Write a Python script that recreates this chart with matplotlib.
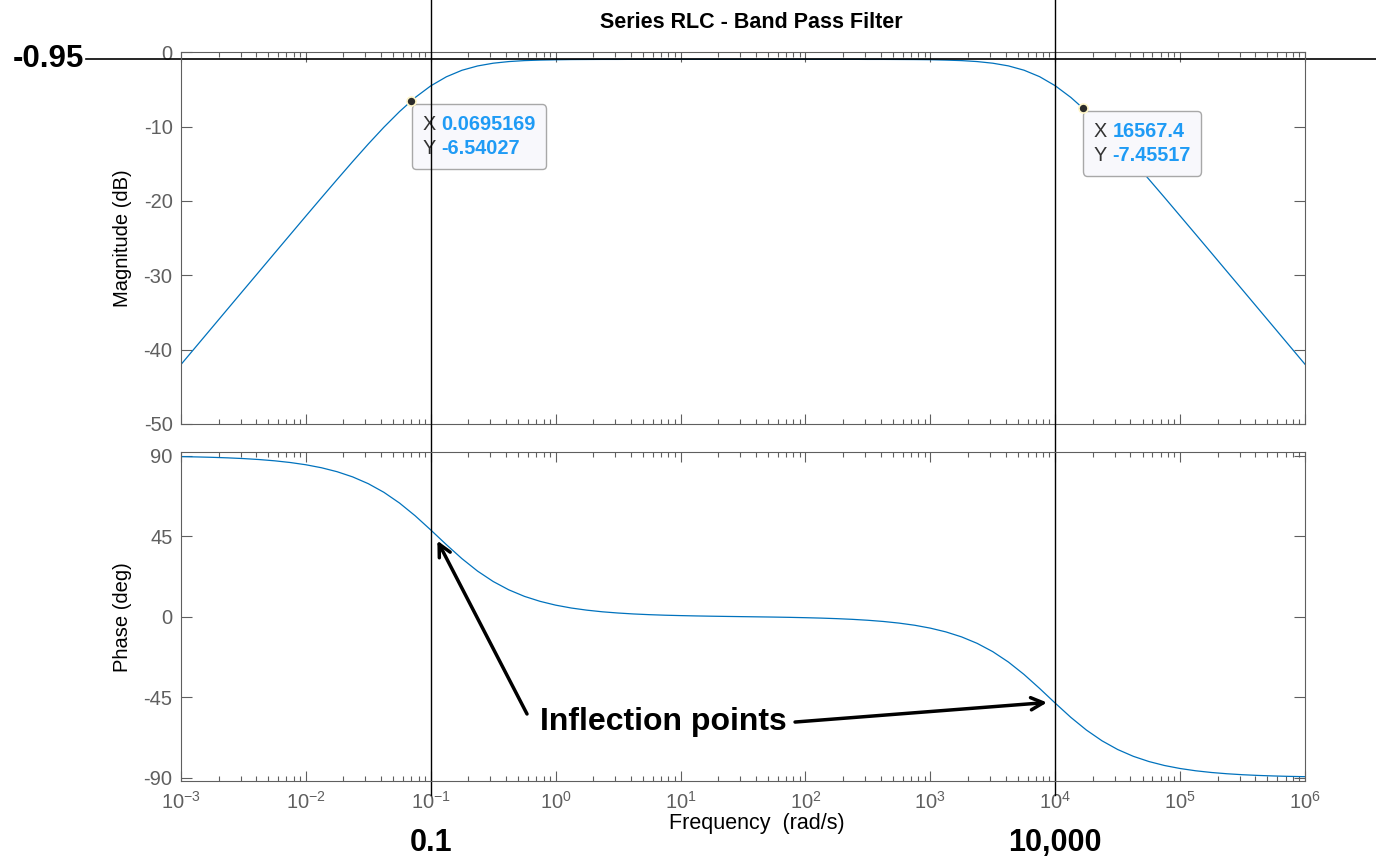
import matplotlib
matplotlib.use("Agg")
import matplotlib.pyplot as plt
import matplotlib.transforms as mtransforms
from matplotlib.offsetbox import TextArea, HPacker, VPacker, AnnotationBbox

plt.rcParams['font.family'] = ['Liberation Sans', 'DejaVu Sans']
plt.rcParams['mathtext.fontset'] = 'custom'
plt.rcParams['mathtext.rm'] = 'Liberation Sans'
plt.rcParams['mathtext.it'] = 'Liberation Sans:italic'
plt.rcParams['mathtext.bf'] = 'Liberation Sans:bold'
plt.rcParams['axes.unicode_minus'] = False

# frequencies read at eighth decades, 1e-3 .. 1e6 rad/s
log_freq = [-3.0, -2.875, -2.75, -2.625, -2.5, -2.375, -2.25, -2.125,
            -2.0, -1.875, -1.75, -1.625, -1.5, -1.375, -1.25, -1.125,
            -1.0, -0.875, -0.75, -0.625, -0.5, -0.375, -0.25, -0.125,
            0.0, 0.125, 0.25, 0.375, 0.5, 0.625, 0.75, 0.875,
            1.0, 1.125, 1.25, 1.375, 1.5, 1.625, 1.75, 1.875,
            2.0, 2.125, 2.25, 2.375, 2.5, 2.625, 2.75, 2.875,
            3.0, 3.125, 3.25, 3.375, 3.5, 3.625, 3.75, 3.875,
            4.0, 4.125, 4.25, 4.375, 4.5, 4.625, 4.75, 4.875,
            5.0, 5.125, 5.25, 5.375, 5.5, 5.625, 5.75, 5.875, 6.0]
freq = [10 ** e for e in log_freq]

magnitude_db = [-42.01, -39.51, -37.01, -34.51, -32.01, -29.52, -27.02, -24.53,
                -22.04, -19.57, -17.12, -14.70, -12.34, -10.08, -7.98, -6.09,
                -4.52, -3.30, -2.42, -1.84, -1.47, -1.25, -1.12, -1.05,
                -1.01, -0.98, -0.97, -0.96, -0.96, -0.95, -0.95, -0.95,
                -0.95, -0.95, -0.95, -0.95, -0.95, -0.95, -0.95, -0.95,
                -0.95, -0.95, -0.95, -0.95, -0.96, -0.96, -0.97, -0.98,
                -1.00, -1.05, -1.12, -1.25, -1.47, -1.83, -2.41, -3.28,
                -4.50, -6.07, -7.94, -10.04, -12.30, -14.66, -17.08, -19.53,
                -22.01, -24.49, -26.98, -29.48, -31.97, -34.47, -36.97, -39.47, -41.97]

phase_deg = [89.49, 89.32, 89.10, 88.80, 88.40, 87.86, 87.15, 86.20,
             84.94, 83.27, 81.06, 78.15, 74.36, 69.53, 63.53, 56.43,
             48.49, 40.28, 32.43, 25.47, 19.66, 15.00, 11.35, 8.57,
             6.44, 4.83, 3.63, 2.71, 2.03, 1.50, 1.11, 0.81,
             0.59, 0.40, 0.25, 0.12, 0.00, -0.12, -0.24, -0.39,
             -0.58, -0.81, -1.11, -1.50, -2.02, -2.70, -3.61, -4.81,
             -6.42, -8.53, -11.31, -14.93, -19.57, -25.37, -32.30, -40.14,
             -48.35, -56.31, -63.43, -69.44, -74.29, -78.09, -81.01, -83.24,
             -84.92, -86.19, -87.14, -87.85, -88.39, -88.79, -89.09, -89.32, -89.49]

# data tips
tip_x = [0.0695169, 16567.4]
tip_y = [-6.54027, -7.45517]
tip_x_text = ["0.0695169", "16567.4"]
tip_y_text = ["-6.54027", "-7.45517"]

passband_level = -0.95
corner_freqs = [0.1, 1e4]
corner_labels = ["0.1", "10,000"]
mag_ticks = [0, -10, -20, -30, -40, -50]
phase_ticks = [90, 45, 0, -45, -90]

line_color = '#0072BD'
axis_grey = '#5f5f5f'
tip_blue = '#1f9bf5'

fig = plt.figure(figsize=(13.76, 8.67), dpi=100)
ax1 = fig.add_axes([0.1315, 0.5110, 0.8169, 0.4287])
ax2 = fig.add_axes([0.1315, 0.0992, 0.8169, 0.3791])

ax1.semilogx(freq, magnitude_db, color=line_color, lw=0.9)
ax2.semilogx(freq, phase_deg, color=line_color, lw=0.9)

for ax in (ax1, ax2):
    ax.set_xlim(1e-3, 1e6)
    ax.tick_params(which='both', direction='in', top=True, right=True,
                   colors=axis_grey, labelsize=14.5, width=0.8)
    ax.tick_params(axis='x', which='major', length=7.2, pad=7)
    ax.tick_params(axis='x', which='minor', length=3.6)
    ax.tick_params(axis='y', which='major', length=7.9, pad=6)
    ax.tick_params(axis='y', which='minor', length=0)
    for sp in ax.spines.values():
        sp.set_color(axis_grey)
        sp.set_linewidth(0.8)
    ax.set_xticks([10.0 ** k for k in range(-3, 7)])

ax1.set_ylim(-50, 0)
ax1.set_yticks(mag_ticks)
ax1.tick_params(axis='x', labelbottom=False)
ax2.set_ylim(-91.9, 91.9)
ax2.set_yticks(phase_ticks)

ax1.set_ylabel("Magnitude (dB)", fontsize=14.5, va='center')
ax2.set_ylabel("Phase (deg)", fontsize=14.5, va='center')
ax1.yaxis.set_label_coords(-0.0516, 0.5)
ax2.yaxis.set_label_coords(-0.0516, 0.5)

fig.text(0.546, 0.9746, "Series RLC - Band Pass Filter", ha='center', va='center',
         fontsize=15.5, fontweight='bold')
fig.text(0.55, 0.0496, "Frequency  (rad/s)", ha='center', va='center', fontsize=15.5)

# -0.95 dB reference line across the figure
hline_tr = mtransforms.blended_transform_factory(fig.transFigure, ax1.transData)
ax1.plot([0.0625, 1.0], [passband_level, passband_level], color='black', lw=1.2,
         transform=hline_tr, clip_on=False)
ax1.text(0.061, passband_level, "-0.95", transform=hline_tr, ha='right', va='center',
         fontsize=22.5, fontweight='bold')

# vertical lines at the corner frequencies
vline_tr = mtransforms.blended_transform_factory(ax2.transData, fig.transFigure)
for f, lab in zip(corner_freqs, corner_labels):
    ax2.plot([f, f], [0.083, 1.0], color='black', lw=1.0, transform=vline_tr, clip_on=False)
    ax2.text(f, 0.0277, lab, transform=vline_tr, ha='center', va='center',
             fontsize=22, fontweight='bold')

# data tips
for x, y, xs, ys in zip(tip_x, tip_y, tip_x_text, tip_y_text):
    ax1.plot([x], [y], 'o', ms=6.5, mfc='#2b2b2b', mec='#fff6c8', mew=1.2, zorder=5)
    rows = []
    for name, val in (("X", xs), ("Y", ys)):
        rows.append(HPacker(children=[
            TextArea(name, textprops=dict(color='#333333', fontsize=14.3)),
            TextArea(val, textprops=dict(color=tip_blue, fontsize=14.3, fontweight='bold'))],
            sep=4, pad=0, align='baseline'))
    box = VPacker(children=rows, sep=4, pad=0, align='left')
    ab = AnnotationBbox(box, (x, y), xybox=(8, -10), xycoords='data',
                        boxcoords='offset points', box_alignment=(0, 1), pad=0,
                        frameon=True,
                        bboxprops=dict(boxstyle='round,pad=0.75,rounding_size=0.3',
                                       fc='#f8f8fc', ec='#a8a8a8', lw=1.0))
    ax1.add_artist(ab)

# inflection point annotation
fig.text(0.3924, 0.1672, "Inflection points", ha='left', va='center',
         fontsize=23, fontweight='bold')
ax2.annotate('', xy=(0.113, 42.5), xycoords='data', xytext=(0.383, 0.1765),
             textcoords='figure fraction',
             arrowprops=dict(arrowstyle='->', lw=2.5, color='black',
                             shrinkA=0, shrinkB=0, mutation_scale=22))
ax2.annotate('', xy=(8600, -48), xycoords='data', xytext=(0.5778, 0.1672),
             textcoords='figure fraction',
             arrowprops=dict(arrowstyle='->', lw=2.5, color='black',
                             shrinkA=0, shrinkB=0, mutation_scale=22))

fig.savefig("out.png", dpi=100)
